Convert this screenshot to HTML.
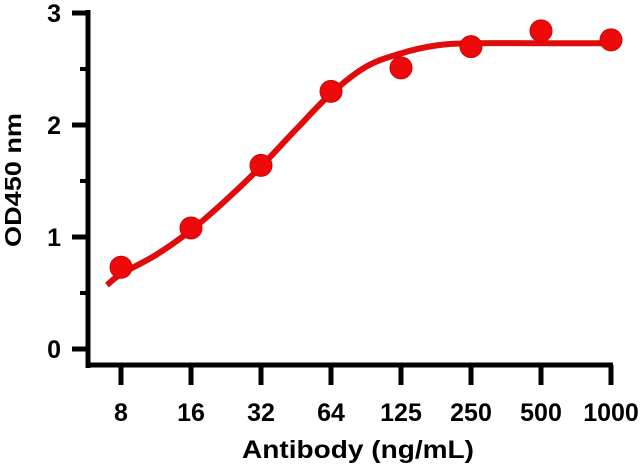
<!DOCTYPE html>
<html><head><meta charset="utf-8"><style>
html,body{margin:0;padding:0;background:#fff;}
svg{display:block;font-family:"Liberation Sans",Arial,sans-serif;font-weight:bold;}
</style></head><body>
<svg id="chart" width="640" height="466" viewBox="0 0 640 466" xmlns="http://www.w3.org/2000/svg">
<g id="axes"></g>
<g id="marks"></g>
<text x="358" y="458" text-anchor="middle" font-size="25" textLength="232" lengthAdjust="spacingAndGlyphs">Antibody (ng/mL)</text>
<text transform="translate(21,180) rotate(-90)" text-anchor="middle" font-size="23" textLength="134" lengthAdjust="spacingAndGlyphs">OD450 nm</text>
</svg>
<script>
const categories = ["8","16","32","64","125","250","500","1000"];
const odValues = [0.73, 1.08, 1.64, 2.30, 2.51, 2.70, 2.84, 2.76];
const yTicks = [0, 1, 2, 3];
const yMinorTicks = [0.5, 1.5, 2.5];
// fitted curve values: category index positions and OD
const fitIndex = [-0.2, 0, 0.5, 1, 1.5, 2, 2.5, 3, 3.5, 4, 4.5, 5, 6, 7];
const fitValues = [0.57, 0.67, 0.84, 1.06, 1.33, 1.63, 1.96, 2.28, 2.52, 2.64, 2.71, 2.73, 2.73, 2.73];

const NS = "http://www.w3.org/2000/svg";
const xScale = i => 121 + i * 70;
const yScale = v => 349 - v * 112;
function mk(tag, attrs, parent){ const e=document.createElementNS(NS,tag); for(const k in attrs) e.setAttribute(k,attrs[k]); parent.appendChild(e); return e; }
const axes = document.getElementById('axes');
const marks = document.getElementById('marks');

let el = mk('line',{x1:88,y1:10,x2:88,y2:368,stroke:'#000','stroke-width':5},axes);


el = mk('line',{x1:86,y1:365,x2:613,y2:365,stroke:'#000','stroke-width':5},axes);



yTicks.forEach(t=>{
  const y=yScale(t);
  let tk = mk('line',{x1:72,y1:y,x2:88,y2:y,stroke:'#000','stroke-width':5},axes);
  
  
  let lb = mk('text',{x:61,y:y+9,'text-anchor':'end','font-size':25},axes);
  lb.textContent=String(t);
  
  
});
yMinorTicks.forEach(t=>{
  const y=yScale(t);
  let tk = mk('line',{x1:80,y1:y,x2:88,y2:y,stroke:'#000','stroke-width':4},axes);
  
  
});
categories.forEach((c,i)=>{
  const x=xScale(i);
  let tk = mk('line',{x1:x,y1:365,x2:x,y2:385,stroke:'#000','stroke-width':5},axes);
  
  
  let lb = mk('text',{x:x,y:421,'text-anchor':'middle','font-size':25},axes);
  lb.textContent=c;
  
  
});

// smooth curve (Catmull-Rom)
const pts = fitIndex.map((fi,k)=>[xScale(fi), yScale(fitValues[k])]);
let d = 'M'+pts[0][0]+','+pts[0][1];
for(let k=0;k<pts.length-1;k++){
  const p0=pts[Math.max(0,k-1)], p1=pts[k], p2=pts[k+1], p3=pts[Math.min(pts.length-1,k+2)];
  const c1=[p1[0]+(p2[0]-p0[0])/6, p1[1]+(p2[1]-p0[1])/6];
  const c2=[p2[0]-(p3[0]-p1[0])/6, p2[1]-(p3[1]-p1[1])/6];
  d+=' C'+c1[0]+','+c1[1]+' '+c2[0]+','+c2[1]+' '+p2[0]+','+p2[1];
}
let curve = mk('path',{d:d,fill:'none',stroke:'#e00c0c','stroke-width':6,'stroke-linecap':'butt'},marks);



odValues.forEach((v,i)=>{
  let c = mk('circle',{cx:xScale(i),cy:yScale(v),r:11,fill:'#ee0a0a',stroke:'#c80808','stroke-width':1},marks);
  
  
});
</script>
</body></html>
